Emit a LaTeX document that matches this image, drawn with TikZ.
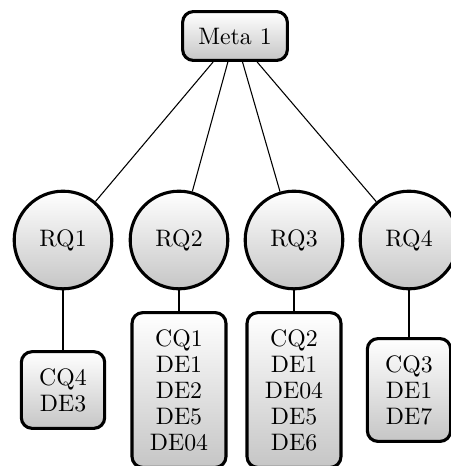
\documentclass[tikz,border=0pt]{standalone}
\usetikzlibrary{shapes.geometric}
\begin{document}
\begin{tikzpicture}[x=0.42pt,y=-0.42pt,
  every node/.style={font=\fontsize{10}{10.9}\selectfont, align=center},
  shade box/.style={top color=white, bottom color=gray!45,
    draw=black, line width=1.3pt},
  metabox/.style={shade box, rectangle, rounded corners=4.5pt,
    minimum width=44pt, minimum height=20.5pt},
  rqnode/.style={shade box, circle, minimum size=41pt, inner sep=0pt},
  listbox/.style={shade box, rectangle, rounded corners=4.5pt,
    inner xsep=7.5pt, inner ysep=0pt},
  link/.style={draw=black, line width=0.45pt}]
  \useasboundingbox (0,0) rectangle (451,466);

  % root
  \node[metabox] (meta) at (235,36) {Meta 1};

  % research questions
  \node[rqnode] (rq1) at (63,240)  {RQ1};
  \node[rqnode] (rq2) at (179,240) {RQ2};
  \node[rqnode] (rq3) at (294,240) {RQ3};
  \node[rqnode] (rq4) at (409,240) {RQ4};

  % question / element lists
  \node[listbox, minimum height=32.2pt] (l1) at (63,390)  {CQ4\\DE3};
  \node[listbox, minimum height=65pt]   (l2) at (179,390) {CQ1\\DE1\\DE2\\DE5\\DE04};
  \node[listbox, minimum height=65pt]   (l3) at (294,390) {CQ2\\DE1\\DE04\\DE5\\DE6};
  \node[listbox, minimum height=43.2pt] (l4) at (409,390) {CQ3\\DE1\\DE7};

  % connectors
  \begin{scope}[on background layer/.style={}]
    \draw[link] (meta) -- (rq1);
    \draw[link] (meta) -- (rq2);
    \draw[link] (meta) -- (rq3);
    \draw[link] (meta) -- (rq4);
    \draw[link] (rq1) -- (l1);
    \draw[link] (rq2) -- (l2);
    \draw[link] (rq3) -- (l3);
    \draw[link] (rq4) -- (l4);
  \end{scope}
\end{tikzpicture}
\end{document}
